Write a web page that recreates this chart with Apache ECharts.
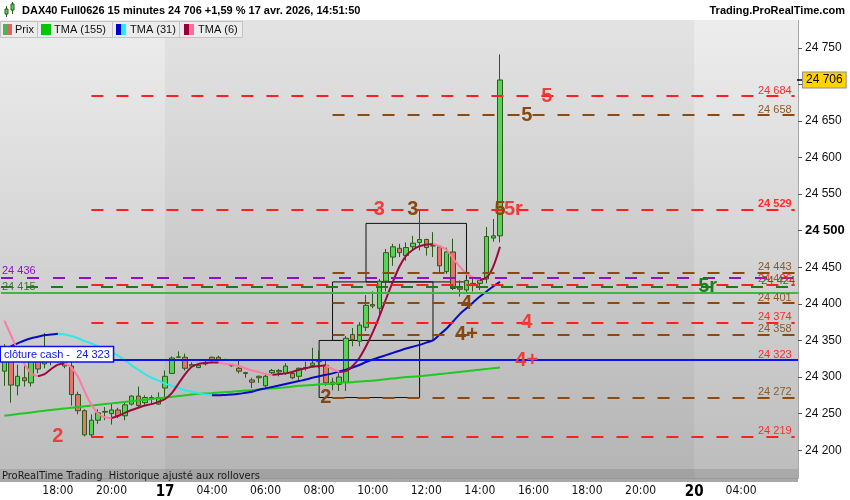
<!DOCTYPE html>
<html><head><meta charset="utf-8">
<script src="https://cdn.jsdelivr.net/npm/echarts@6/dist/echarts.min.js"></script>
<style>html,body{margin:0;padding:0;background:#fff}#c{width:850px;height:500px}</style>
</head><body><div id="c"></div>
<script>
// ---------- DATA ----------
const sessions = [['16','16:00','21:45'],['17','02:15','21:45'],['20','02:15','06:00']];
const tickLabels = {'16 18:00':'18:00','16 20:00':'20:00','17 02:15':'17','17 04:00':'04:00','17 06:00':'06:00',
  '17 08:00':'08:00','17 10:00':'10:00','17 12:00':'12:00','17 14:00':'14:00','17 16:00':'16:00',
  '17 18:00':'18:00','17 20:00':'20:00','20 02:15':'20','20 04:00':'04:00'};
const yTicks = [24200,24250,24300,24350,24400,24450,24500,24550,24600,24650,24700,24750];
// candles [open, close, low, high], from 16 16:00 to 17 14:45
const candles = [
 [24308,24335,24288,24345],[24330,24289,24265,24340],[24288,24301,24275,24317],[24299,24295,24287,24315],
 [24292,24321,24287,24328],[24321,24311,24305,24326],[24318,24330,24312,24360],[24322,24330,24316,24338],
 [24330,24326,24320,24336],[24322,24315,24312,24326],[24315,24276,24261,24322],[24276,24254,24249,24280],
 [24254,24221,24219,24256],[24221,24241,24217,24249],[24241,24251,24236,24256],[24253,24252,24241,24259],
 [24250,24255,24235,24264],[24255,24247,24244,24258],[24247,24262,24241,24265],[24263,24274,24261,24275],
 [24274,24261,24258,24287],[24265,24272,24262,24275],[24270,24272,24262,24275],[24263,24272,24262,24279],
 [24285,24301,24272,24309],[24305,24326,24304,24328],[24327,24327.5,24326,24335],[24327,24312,24309,24332],
 [24315,24317,24313,24320],[24313,24316,24312,24318],[24318,24320,24316,24322],[24327,24323,24321,24328],
 [24327,24324,24322,24329],[24324,24323,24322,24325],[24316,24315.5,24314,24317],[24312,24308,24305,24322],
 [24306,24305,24299,24307],[24296,24293,24285,24299],[24301,24299,24292,24302],[24288,24301,24285,24304],
 [24306,24309,24304,24311],[24309,24307,24301,24311],[24305,24315,24303,24319],[24305,24299,24297,24306],
 [24301,24312,24294,24313],[24313,24312,24309,24321],[24316,24319,24313,24340],[24322,24321,24312,24336],
 [24316,24292,24288,24322],[24290,24293,24282,24299],[24290,24300,24281,24305],[24293,24353,24281,24356],
 [24358,24351,24342,24367],[24349,24371,24342,24375],[24368,24398,24363,24412],[24399,24397,24394,24417],
 [24394,24431,24385,24434],[24431,24470,24417,24475],[24464,24478,24452,24482],[24476,24470,24464,24482],
 [24466,24477,24459,24484],[24478,24483,24473,24493],[24484,24488,24473,24527],[24488,24477,24466,24489],
 [24480,24479,24464,24498],[24478,24452,24441,24480],[24444,24471,24441,24477],[24471,24421,24419,24489],
 [24422,24420,24410,24432],[24419,24432,24416,24434],[24428,24425,24417,24434],[24428,24432,24419,24434],
 [24434,24492,24428,24505],[24490,24493,24485,24516],[24493,24706,24484,24741]
];
const tma155 = [24247,24248,24249.5,24250.5,24251.5,24253,24254,24255,24256,24257,24258,24259,24260,24261,24262,
 24263,24264,24265,24266,24267,24268,24269,24270,24271,24272,24273,24274,24275,24276,24277,24277.5,24278,24279,
 24279.5,24280,24281,24281.5,24282,24283,24284,24284.5,24285,24286,24287,24288,24288.5,24289,24290,24290.5,24291,
 24292,24292.5,24293,24294,24294.5,24295,24296,24297,24298,24299,24300,24300.5,24301,24302,24303,24304,24305,
 24306,24307,24308,24309,24310,24311,24312,24313];
const tma31 = [24337,24342,24346,24350,24353,24355,24357,24358,24359,24358,24356,24353,24349,24346,24342,24338,
 24334,24329,24323,24316,24310,24304,24299,24295,24291,24288,24285,24282,24280,24278,24276,24275,24275,24275.5,
 24276,24277,24278.5,24280,24282.5,24284.5,24286.5,24288.5,24290.5,24292.5,24294.5,24296.5,24299,24301,24303,
 24305,24307.5,24310,24313,24316.5,24320.5,24324,24327,24330,24333,24336,24339,24341.5,24344,24347,24350,24358,
 24366,24376,24386,24394,24402,24410,24417,24424,24430];
const tma6 = [24377,24357,24336,24318,24305,24301,24304,24311,24317,24319,24313,24300,24280,24262,24250,24245,
 24244,24247,24251,24255,24258,24261,24263,24266,24270,24278,24291,24304,24314,24318,24319,24320,24320,24318,
 24317,24315,24312,24309,24307,24304,24303,24304,24305,24307,24310,24312,24314,24315,24316,24311,24307,24308,
 24315,24326,24342,24361,24383,24407,24430,24451,24466,24474,24479,24481,24482,24479,24474,24462,24451,24441,
 24436,24433,24436,24451,24478];
const redLevels = [24684,24529,24426,24374,24323,24219];
const brownLevels = [24658,24443,24401,24358,24272];
const purpleLevel = 24436, greenDashLevel = 24424, greenLevel = 24415, cashLevel = 24323, lastPrice = 24706;
const boxes = [[['17 08:00',24350],['17 11:45',24272]],[['17 08:30',24430],['17 12:15',24350]],[['17 09:45',24510],['17 13:30',24430]]];
const annotations = [
 ['5','17 16:30',24684,'red'],['5','17 15:45',24658,'brown'],['3','17 10:15',24529,'red'],['3','17 11:30',24529,'brown'],
 ['5','17 14:45',24529,'brown'],['5r','17 15:15',24529,'red'],['5r','20 02:45',24424,'green'],
 ['4','17 13:30',24401,'brown'],['4','17 15:45',24374,'red'],['4+','17 13:30',24358,'brown'],['4+','17 15:45',24323,'red'],
 ['2','17 08:15',24272,'brown'],['2','16 18:00',24219,'red']
];
const RED_START = '16 19:15', BROWN_START = '17 08:30';

// ---------- BUILD ----------
const toMin = s => +s.slice(0,2)*60 + +s.slice(3);
const pad = n => String(n).padStart(2,'0');
const categories = [];
sessions.forEach(([d,a,b]) => { for (let m = toMin(a); m <= toMin(b); m += 15) categories.push(d+' '+pad(Math.floor(m/60))+':'+pad(m%60)); });
const LAST = categories[categories.length-1];
const fmt = v => String(Math.round(v)).replace(/\B(?=(\d{3})+(?!\d))/g,' ');

function splitDir(arr){
  const up = arr.map(()=>null), dn = arr.map(()=>null);
  for (let i=0;i<arr.length-1;i++){
    const t = arr[i+1] >= arr[i] ? up : dn;
    t[i] = arr[i]; t[i+1] = arr[i+1];
  }
  return [up, dn];
}
const [t31up, t31dn] = splitDir(tma31);
const [t6up, t6dn] = splitDir(tma6);

const C = {red:'#ff1f1f', redTxt:'#ff2a2a', brown:'#8b4a12', brownTxt:'#8a5a2e', purple:'#8c12c4', dkgreen:'#1d7a1d',
  green:'#3cba3c', blue:'#0b12ee', annRed:'#f23c3c', annBrown:'#87480f', annGreen:'#1f7f1f'};
const NARROW = "'Liberation Sans Narrow','DejaVu Sans Condensed','Arial Narrow',sans-serif";

const ml = [];
function pairLine(v, start, color, txtColor, bold){
  ml.push([{coord:[start, v], lineStyle:{color, width:2, type:[12,13]},
    label:{show:true, position:'insideEndTop', distance:[3,0], formatter: fmt(v), color: txtColor, fontSize:11,
      fontWeight: bold?'bold':'normal'}}, {coord:[LAST, v]}]);
}
ml.push({yAxis: purpleLevel, lineStyle:{color:C.purple, width:2, type:[12,14]},
  label:{show:true, position:'insideStartTop', distance:[1,1], formatter: fmt(purpleLevel), color:C.purple, fontSize:11}});
ml.push({yAxis: greenLevel, lineStyle:{color:C.green, width:2, type:'solid'},
  label:{show:true, position:'insideStartTop', distance:[1,0], formatter: fmt(greenLevel), color:'#3a7a30', fontSize:11}});
ml.push({yAxis: greenDashLevel, lineStyle:{color:C.dkgreen, width:2, type:[12,13]},
  label:{show:true, position:'insideEndTop', distance:[3,0], formatter: fmt(greenDashLevel), color:C.dkgreen, fontSize:11}});
brownLevels.forEach(v => pairLine(v, BROWN_START, C.brown, C.brownTxt, false));
redLevels.forEach(v => pairLine(v, RED_START, C.red, C.redTxt, v===24529));
ml.push({yAxis: cashLevel, lineStyle:{color:C.blue, width:2, type:'solid'},
  label:{show:true, position:'insideStartTop', distance:[0,-1], formatter:'clôture cash -  ' + fmt(cashLevel),
    color:C.blue, fontSize:11, backgroundColor:'#fff', borderColor:C.blue, borderWidth:1.5, padding:[2,3,1,3]}});
ml.push({yAxis: lastPrice, lineStyle:{color:'rgba(0,0,0,0)', width:1, opacity:1},
  label:{show:true, position:'end', distance:5, formatter: fmt(lastPrice), color:'#000', fontSize:12,
    backgroundColor:'#ffd200', borderColor:'#8f8f8f', borderWidth:1, padding:[2,3,1,3], opacity:1}});

const annColor = {red:C.annRed, brown:C.annBrown, green:C.annGreen};

const option = {
  animation:false,
  textStyle:{fontFamily:"'Liberation Sans',Arial,sans-serif"},
  grid:{left:1, right:52, top:20, bottom:18},
  xAxis:{type:'category', data:categories, boundaryGap:true,
    axisLine:{show:true, lineStyle:{color:'#9a9a9a'}}, axisTick:{show:false}, splitLine:{show:false},
    axisLabel:{interval:(i,v)=> tickLabels[v]!==undefined, margin:7, color:'#111', fontSize:12, fontFamily:NARROW,
      formatter: v => { const t = tickLabels[v]||''; return /^\d+$/.test(t) ? '{b|'+t+'}' : t; },
      rich:{b:{fontWeight:'bold', fontSize:15, color:'#000', fontFamily:NARROW}}}},
  yAxis:{type:'value', position:'right', min:24162, max:24788, splitLine:{show:false},
    axisLine:{show:true, lineStyle:{color:'#a6a6a6'}},
    axisTick:{show:true, length:4, lineStyle:{color:'#555'}, customValues:yTicks},
    axisLabel:{customValues:yTicks, margin:7, color:'#111', fontSize:12,
      formatter: v => v===24500 ? '{b|'+fmt(v)+'}' : fmt(v), rich:{b:{fontWeight:'bold', fontSize:13, color:'#000'}}}},
  series:[
    {type:'line', data:[], z:1, silent:true,
      markArea:{silent:true, itemStyle:{color:'rgba(0,0,0,0.04)'}, data:[[{xAxis:'17 02:15'},{xAxis:'20 02:15'}]]}},
    {type:'candlestick', data:candles, barWidth:5, z:2, silent:true,
      itemStyle:{color:'#58d358', color0:'#e5746a', borderColor:'#2b5a1a', borderColor0:'#2b5a1a', borderWidth:1}},
    {type:'line', data:tma155, showSymbol:false, smooth:0.3, z:3, silent:true, lineStyle:{color:'#20c820', width:2}},
    {type:'line', data:t31up, showSymbol:false, smooth:0.3, z:3, silent:true, lineStyle:{color:'#0a0ac4', width:2}},
    {type:'line', data:t31dn, showSymbol:false, smooth:0.3, z:3, silent:true, lineStyle:{color:'#2ee8ea', width:2}},
    {type:'line', data:t6up, showSymbol:false, smooth:0.3, z:3, silent:true, lineStyle:{color:'#9a0a3c', width:2}},
    {type:'line', data:t6dn, showSymbol:false, smooth:0.3, z:3, silent:true, lineStyle:{color:'#ff7aa2', width:2}},
    {type:'line', data:[], z:4, silent:true,
      markLine:{silent:true, symbol:['none','none'], animation:false, data:ml},
      markArea:{silent:true, itemStyle:{color:'rgba(0,0,0,0)', borderColor:'#111', borderWidth:1},
        data: boxes.map(b => [{coord:b[0]},{coord:b[1]}])},
      markPoint:{silent:true, symbol:'circle', symbolSize:1, itemStyle:{color:'rgba(0,0,0,0)'},
        data: annotations.map(a => ({coord:[a[1], a[2]], label:{show:true, position:'inside', formatter:a[0],
          color:annColor[a[3]], fontSize:20, fontWeight:'bold'}}))}}
  ],
  graphic:[
    {type:'rect', z:-10, silent:true, shape:{x:0,y:20,width:798,height:462},
      style:{fill:{type:'linear',x:0,y:0,x2:0,y2:1,colorStops:[{offset:0,color:'#ededed'},{offset:1,color:'#bcbcbc'}]}}},
    {type:'rect', z:-5, silent:true, shape:{x:0,y:469,width:798,height:13}, style:{fill:'rgba(0,0,0,0.1)'}},
    {type:'text', z:20, silent:true, x:2, y:476, style:{text:'ProRealTime Trading  Historique ajusté aux rollovers',
      fill:'#1a1a1a', font:"11px "+NARROW, verticalAlign:'middle'}},
    // last price tick on the axis
    {type:'line', z:20, silent:true, shape:{x1:797,y1:80,x2:802,y2:80}, style:{stroke:'#000',lineWidth:1.5}},
    // title bar
    {type:'rect', z:20, silent:true, shape:{x:0,y:0,width:850,height:20}, style:{fill:'#fff'}},
    {type:'rect', z:21, silent:true, shape:{x:6.5,y:6,width:0,height:11}, style:{stroke:'#2b5a1a',lineWidth:1}},
    {type:'rect', z:22, silent:true, shape:{x:5,y:9,width:3,height:5}, style:{fill:'#58d358',stroke:'#2b5a1a',lineWidth:1}},
    {type:'rect', z:21, silent:true, shape:{x:12.5,y:2,width:0,height:12}, style:{stroke:'#2b5a1a',lineWidth:1}},
    {type:'rect', z:22, silent:true, shape:{x:11,y:4,width:3,height:6}, style:{fill:'#58d358',stroke:'#2b5a1a',lineWidth:1}},
    {type:'text', z:21, silent:true, x:22, y:11, style:{text:'DAX40 Full0626 15 minutes 24 706 +1,59 % 17 avr. 2026, 14:51:50',
      fill:'#000', font:"bold 11px 'Liberation Sans',Arial,sans-serif", verticalAlign:'middle'}},
    {type:'text', z:21, silent:true, x:845, y:11, style:{text:'Trading.ProRealTime.com', fill:'#000',
      font:"bold 11px 'Liberation Sans',Arial,sans-serif", verticalAlign:'middle', align:'right'}},
    // legend buttons
    {type:'rect', z:20, silent:true, shape:{x:0.5,y:21.5,width:37,height:16}, style:{fill:'#ececec',stroke:'#c3c3c3',lineWidth:1}},
    {type:'rect', z:20, silent:true, shape:{x:37.5,y:21.5,width:75,height:16}, style:{fill:'#ececec',stroke:'#c3c3c3',lineWidth:1}},
    {type:'rect', z:20, silent:true, shape:{x:112.5,y:21.5,width:67,height:16}, style:{fill:'#ececec',stroke:'#c3c3c3',lineWidth:1}},
    {type:'rect', z:20, silent:true, shape:{x:179.5,y:21.5,width:63,height:16}, style:{fill:'#ececec',stroke:'#c3c3c3',lineWidth:1}},
    {type:'rect', z:21, silent:true, shape:{x:3,y:24,width:5,height:11}, style:{fill:'#4fb44f'}},
    {type:'rect', z:21, silent:true, shape:{x:8,y:24,width:4,height:11}, style:{fill:'#e06262'}},
    {type:'rect', z:21, silent:true, shape:{x:41,y:24,width:10,height:11}, style:{fill:'#00c800'}},
    {type:'rect', z:21, silent:true, shape:{x:116,y:24,width:5,height:11}, style:{fill:'#0000c8'}},
    {type:'rect', z:21, silent:true, shape:{x:121,y:24,width:5,height:11}, style:{fill:'#22f0f0'}},
    {type:'rect', z:21, silent:true, shape:{x:184,y:24,width:5,height:11}, style:{fill:'#990038'}},
    {type:'rect', z:21, silent:true, shape:{x:189,y:24,width:5,height:11}, style:{fill:'#ff6d9a'}},
    {type:'text', z:21, silent:true, x:15, y:30, style:{text:'Prix', fill:'#111', font:"11px 'Liberation Sans',Arial,sans-serif", verticalAlign:'middle'}},
    {type:'text', z:21, silent:true, x:54, y:30, style:{text:'TMA (155)', fill:'#111', font:"11px 'Liberation Sans',Arial,sans-serif", verticalAlign:'middle'}},
    {type:'text', z:21, silent:true, x:130, y:30, style:{text:'TMA (31)', fill:'#111', font:"11px 'Liberation Sans',Arial,sans-serif", verticalAlign:'middle'}},
    {type:'text', z:21, silent:true, x:198, y:30, style:{text:'TMA (6)', fill:'#111', font:"11px 'Liberation Sans',Arial,sans-serif", verticalAlign:'middle'}}
  ]
};
const chart = echarts.init(document.getElementById('c'), null, {renderer:'canvas'});
chart.setOption(option);
</script></body></html>
